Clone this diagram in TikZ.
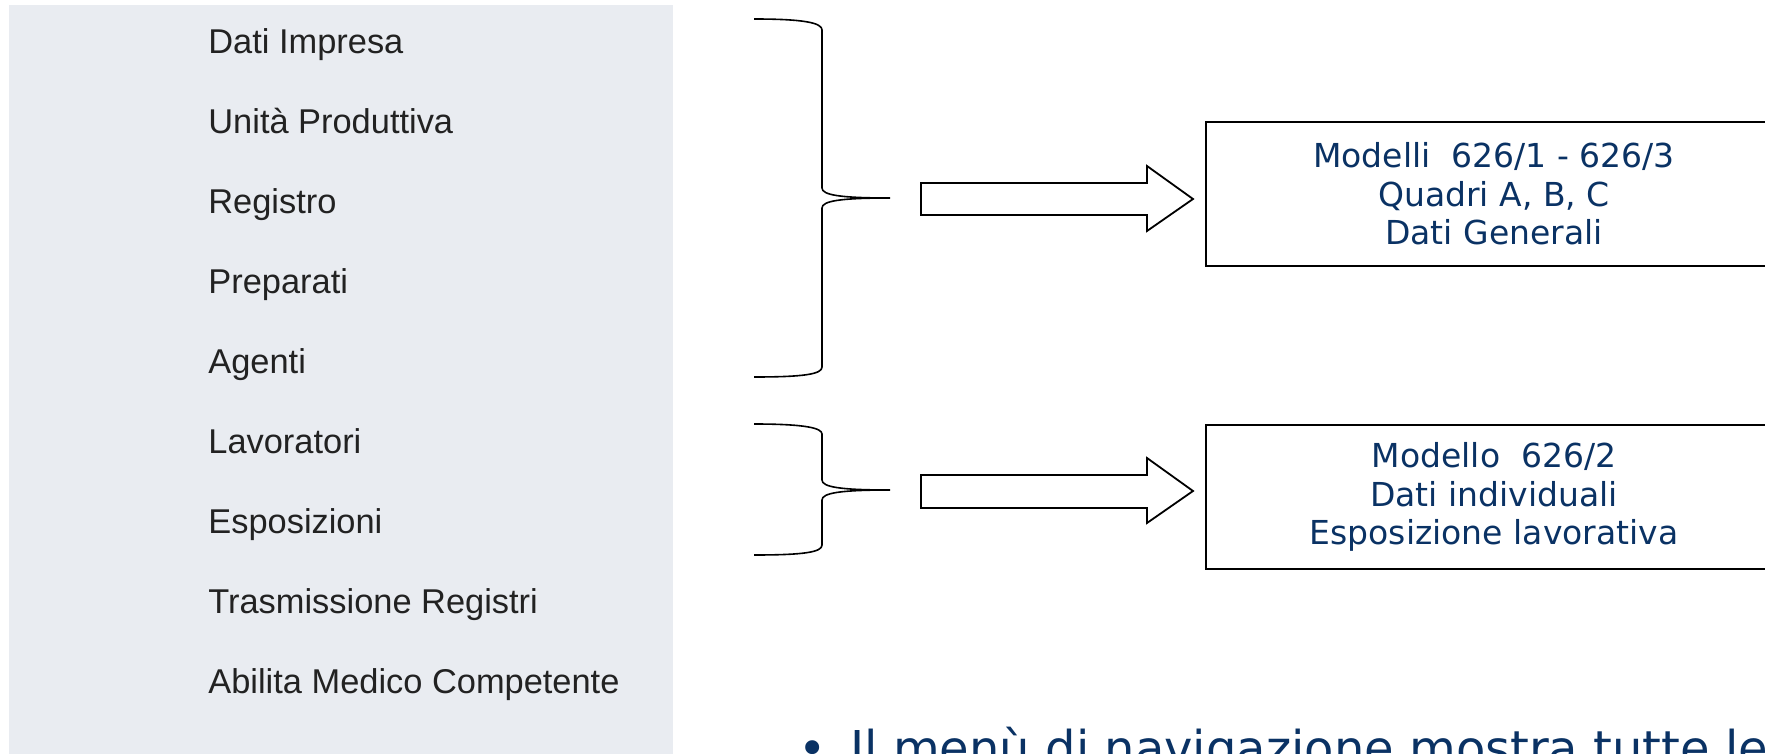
\documentclass[tikz,border=0pt]{standalone}
\usepackage{fontspec}
\setmainfont{Liberation Sans}
\newfontfamily\verd{DejaVu Sans}
\definecolor{panelgrey}{RGB}{233,236,241}
\definecolor{menutext}{RGB}{34,34,34}
\definecolor{navy}{RGB}{10,50,100}
\begin{document}
\begin{tikzpicture}[x=0.5pt,y=-0.5pt,
  menuitem/.style={anchor=base west,inner sep=0pt,text=menutext,font=\fontsize{17.2pt}{20pt}\selectfont},
  modelbox/.style={draw=black,line width=0.95pt,minimum width=288pt,minimum height=72pt,inner sep=0pt,
     align=center,text=navy,font=\verd\fontsize{16.5pt}{19.3pt}\selectfont},
  brace/.style={draw=black,line width=0.8pt},
  blockarrow/.style={draw=black,line width=0.9pt,fill=white,line join=miter},
  notetext/.style={anchor=base west,inner sep=0pt,text=navy,font=\verd\fontsize{24pt}{28pt}\selectfont}
]
\useasboundingbox (0,0) rectangle (1765,754);
\clip (0,0) rectangle (1765,754);
\fill[panelgrey] (9,5) rectangle (673,760);
% menu
\foreach \t [count=\i from 0] in {Dati Impresa,Unità Produttiva,Registro,Preparati,Agenti,Lavoratori,Esposizioni,Trasmissione Registri,Abilita Medico Competente}
  \node[menuitem] (m\i) at (208,{54+79.9*\i}) {\t};
% braces
\coordinate (t1) at (890,198);
\coordinate (t2) at (890,490);
\draw[brace] (754,19) .. controls (805,19) and (822,23) .. (822,30) -- (822,188)
   .. controls (822,195) and (840,198) .. (t1)
   .. controls (840,198) and (822,201) .. (822,208) -- (822,367)
   .. controls (822,374) and (805,377) .. (754,377);
\draw[brace] (754,424) .. controls (805,424) and (822,428) .. (822,434) -- (822,480)
   .. controls (822,487) and (840,490) .. (t2)
   .. controls (840,490) and (822,493) .. (822,500) -- (822,545)
   .. controls (822,552) and (805,555) .. (754,555);
% boxes
\node[modelbox] (b1) at (1494,194) {Modelli\ \ 626/1 - 626/3\\Quadri A, B, C\\Dati Generali};
\node[modelbox] (b2) at (1494,497) {Modello\ \ 626/2\\Dati individuali\\Esposizione lavorativa};
% block arrows
\draw[blockarrow] (921,183) -- (1147,183) -- (1147,166) -- (1193,199) -- (1147,231) -- (1147,215) -- (921,215) -- cycle;
\draw[blockarrow] (921,475) -- (1147,475) -- (1147,458) -- (1193,491) -- (1147,523) -- (1147,508) -- (921,508) -- cycle;
% bottom bullet text
\node[notetext] (bul) at (798,765) {•};
\node[notetext] (note) at (850,765) {Il menù di navigazione mostra tutte le};
\end{tikzpicture}
\end{document}
